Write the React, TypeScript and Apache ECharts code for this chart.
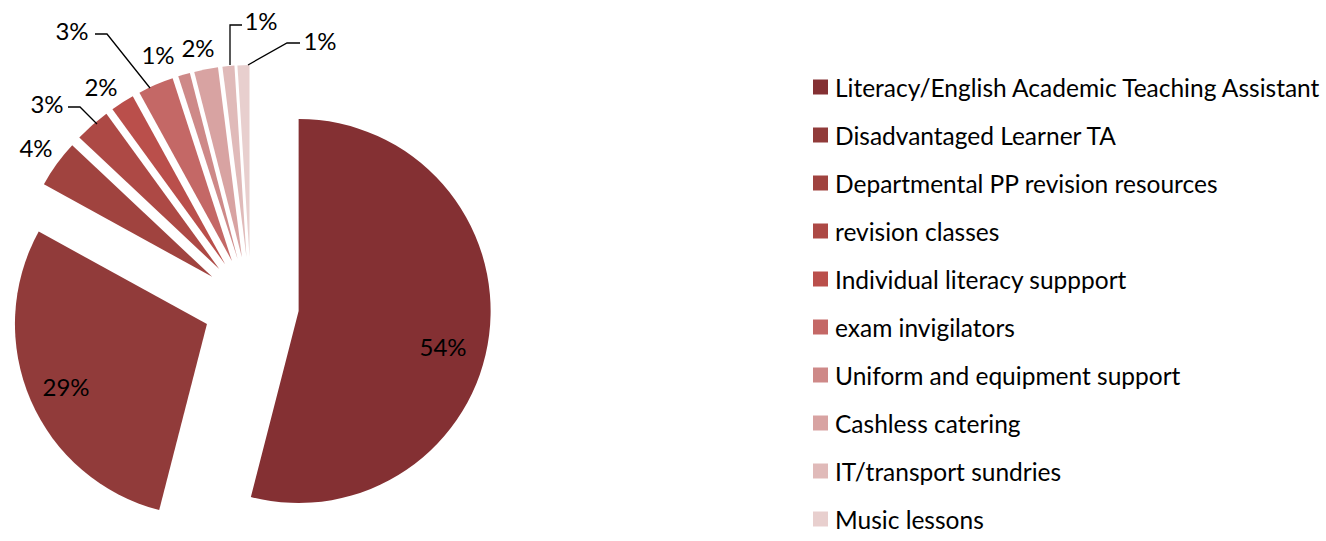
import React, { useEffect, useRef } from "react";
import * as echarts from "echarts";

const categories = [
  "Literacy/English Academic Teaching Assistant",
  "Disadvantaged Learner TA",
  "Departmental PP revision resources",
  "revision classes",
  "Individual literacy suppport",
  "exam invigilators",
  "Uniform and equipment support",
  "Cashless catering",
  "IT/transport sundries",
  "Music lessons",
];
const values = [54, 29, 4, 3, 2, 3, 1, 2, 1, 1];
const colors = [
  "#843033", "#913B3A", "#A0433F", "#AD4945", "#BA4F4B",
  "#C46866", "#CE8988", "#D8A3A2", "#E0BAB9", "#E8CFCE",
];
// label anchor positions (px) and leader lines, as in the reference
const labelPos: [number, number][] = [
  [443, 346], [66, 386], [36, 147], [47, 103], [101, 86],
  [72, 30], [158, 54], [198, 47], [261, 20], [320, 40],
];
const leaderLines: ([number, number][] | null)[] = [
  null, null, null,
  [[97, 124], [80, 107], [68, 107]],
  null,
  [[150, 88], [107, 34], [95, 34]],
  null, null,
  [[230, 65], [230, 25], [242, 25]],
  [[248, 65], [287, 43], [300, 43]],
];

const FONT = "Lato";

export default function App() {
  const ref = useRef<HTMLDivElement>(null);
  useEffect(() => {
    document.body.style.margin = "0";
    const chart = echarts.init(ref.current!, null, { renderer: "svg" });
    const data = categories.map((name, i) => ({
      name,
      value: values[i],
      selected: true,
      itemStyle: { color: colors[i] },
    }));
    const graphics: any[] = [];
    values.forEach((v, i) => {
      const [x, y] = labelPos[i];
      graphics.push({
        type: "text",
        x,
        y,
        z: 100,
        silent: true,
        style: {
          text: `${v}%`,
          fontFamily: FONT,
          fontSize: 24,
          fill: "#000",
          align: "center",
          verticalAlign: "middle",
        },
      });
      const pts = leaderLines[i];
      if (pts) {
        graphics.push({
          type: "polyline",
          z: 100,
          silent: true,
          shape: { points: pts },
          style: { stroke: "#000", lineWidth: 1.3, fill: null },
        });
      }
    });
    chart.setOption({
      animation: false,
      legend: {
        orient: "vertical",
        left: 813,
        top: 74,
        padding: 0,
        itemWidth: 15,
        itemHeight: 15,
        itemGap: 22,
        icon: "rect",
        selectedMode: false,
        data: categories,
        textStyle: {
          fontFamily: FONT,
          fontSize: 24.5,
          lineHeight: 26,
          color: "#000",
          padding: [0, 0, 0, 2],
        },
      },
      graphic: graphics,
      series: [
        {
          type: "pie",
          center: [251, 305],
          radius: 192,
          startAngle: 90,
          clockwise: true,
          selectedMode: "multiple",
          selectedOffset: 48,
          emphasis: { disabled: true },
          data,
          label: { show: false },
          labelLine: { show: false },
        },
      ],
    });
    return () => chart.dispose();
  }, []);
  return (
    <div
      ref={ref}
      style={{ position: "absolute", left: 0, top: 0, width: 1326, height: 541, background: "#fff" }}
    />
  );
}
